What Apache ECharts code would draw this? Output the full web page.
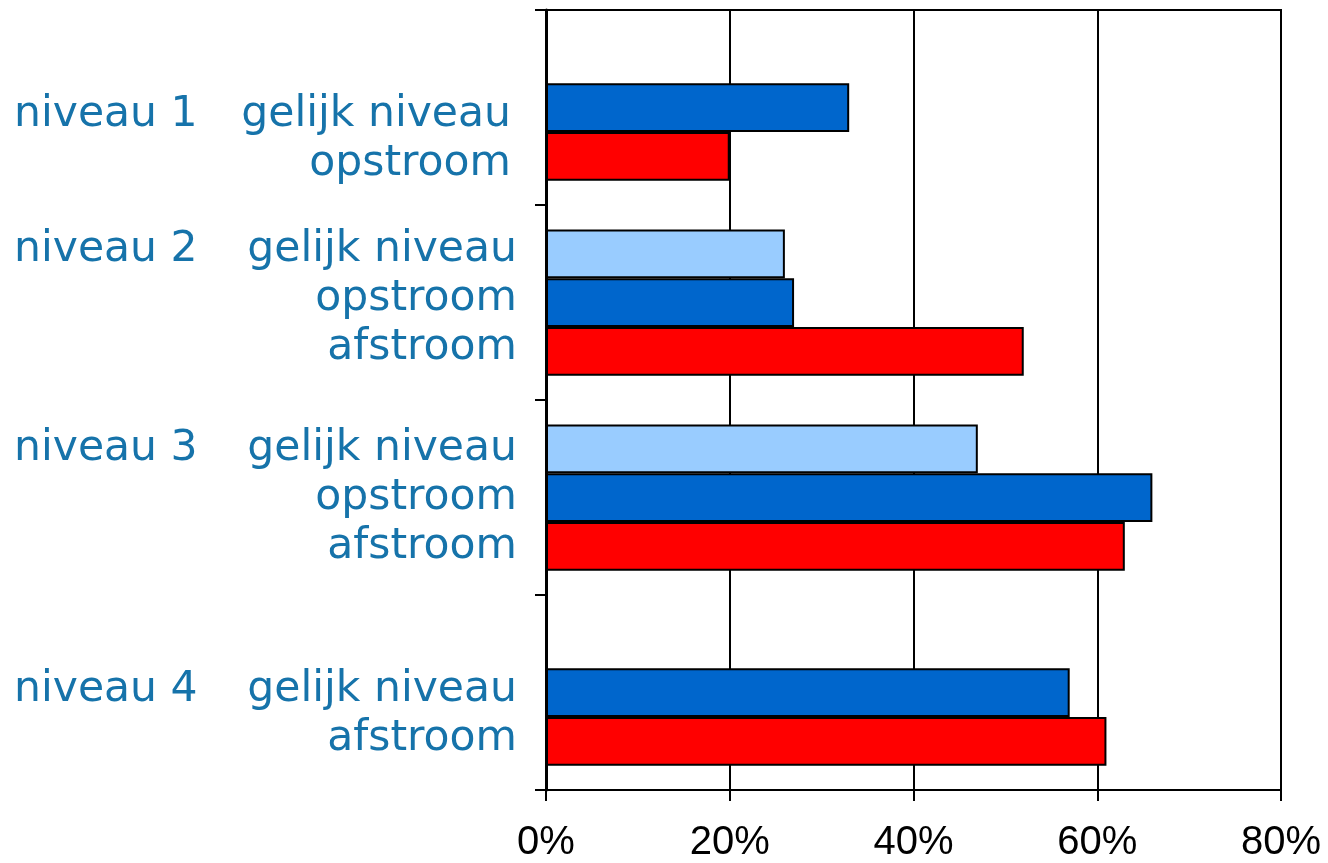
<!DOCTYPE html>
<html>
<head>
<meta charset="utf-8">
<script src="https://cdn.jsdelivr.net/npm/echarts@6/dist/echarts.min.js"></script>
<style>
html,body{margin:0;padding:0;background:#fff;}
#chart{width:1328px;height:863px;}
</style>
</head>
<body>
<div id="chart"></div>
<script>
// Data
const levels = ['niveau 1', 'niveau 2', 'niveau 3', 'niveau 4'];
// label lines per category (empty string = empty slot)
const subLabels = [
  ['', 'gelijk niveau', 'opstroom'],
  ['gelijk niveau', 'opstroom', 'afstroom'],
  ['gelijk niveau', 'opstroom', 'afstroom'],
  ['', 'gelijk niveau', 'afstroom']
];
const lightBlue = [null, 26, 47, null];
const darkBlue = [33, 27, 66, 57];
const red = [20, 52, 63, 61];
const xTicks = [0, 20, 40, 60, 80];

const labelColor = '#1673AA';
const chart = echarts.init(document.getElementById('chart'));

// small per-group vertical nudges (style only)
function makeLabel(value, idx) {
  const lines = subLabels[idx];
  const bStyle = idx === 0 ? 'b1' : 'b';
  let levelPlaced = false;
  const out = lines.map(function (l) {
    if (l === '') {
      const e = idx === 0 ? 'e1' : 'e4';
      return '{' + e + '| }';
    }
    let s;
    if (!levelPlaced) { s = '{a|' + levels[idx] + '}'; levelPlaced = true; }
    else s = '{a| }';
    return s + '{' + bStyle + '|' + l + '}';
  });
  if (idx === 1) out.push('{e2| }');
  return out.join('\n');
}

const fs = 42.5;
const option = {
  animation: false,
  grid: {
    left: 546, right: 47, top: 10, bottom: 69,
    show: true, borderColor: '#000', borderWidth: 2, backgroundColor: 'transparent'
  },
  xAxis: {
    type: 'value', min: xTicks[0], max: xTicks[xTicks.length - 1], interval: 20,
    axisLine: { show: true, lineStyle: { color: '#000', width: 2 } },
    axisTick: { show: true, length: 11, lineStyle: { color: '#000', width: 2 } },
    splitLine: { show: true, lineStyle: { color: '#000', width: 2 } },
    axisLabel: {
      formatter: '{value}%', color: '#000', fontFamily: 'Liberation Sans',
      fontSize: 40, margin: 33
    }
  },
  yAxis: {
    type: 'category', data: levels, inverse: true,
    axisLine: { show: true, lineStyle: { color: '#000', width: 3 } },
    axisTick: { show: true, length: 11, lineStyle: { color: '#000', width: 2 } },
    axisLabel: {
      formatter: makeLabel, margin: 29, align: 'right',
      rich: {
        a: { width: 203, align: 'left', fontFamily: 'DejaVu Sans', fontSize: fs, color: labelColor, lineHeight: 49 },
        b: { width: 300, align: 'right', fontFamily: 'DejaVu Sans', fontSize: fs, color: labelColor, lineHeight: 49 },
        b1: { width: 294, padding: [0, 6, 0, 0], align: 'right', fontFamily: 'DejaVu Sans', fontSize: fs, color: labelColor, lineHeight: 49 },
        e1: { width: 503, fontSize: fs, lineHeight: 63 },
        e2: { width: 503, fontSize: 4, lineHeight: 8 },
        e4: { width: 503, fontSize: fs, lineHeight: 43 }
      }
    }
  },
  series: [
    { name: 'licht', type: 'bar', data: lightBlue, barGap: '0%', barCategoryGap: '25%',
      itemStyle: { color: '#99CCFF', borderColor: '#000', borderWidth: 2 } },
    { name: 'donker', type: 'bar', data: darkBlue, barGap: '0%', barCategoryGap: '25%',
      itemStyle: { color: '#0066CC', borderColor: '#000', borderWidth: 2 } },
    { name: 'rood', type: 'bar', data: red, barGap: '0%', barCategoryGap: '25%',
      itemStyle: { color: '#FF0000', borderColor: '#000', borderWidth: 2 } }
  ]
};
chart.setOption(option);
</script>
</body>
</html>
